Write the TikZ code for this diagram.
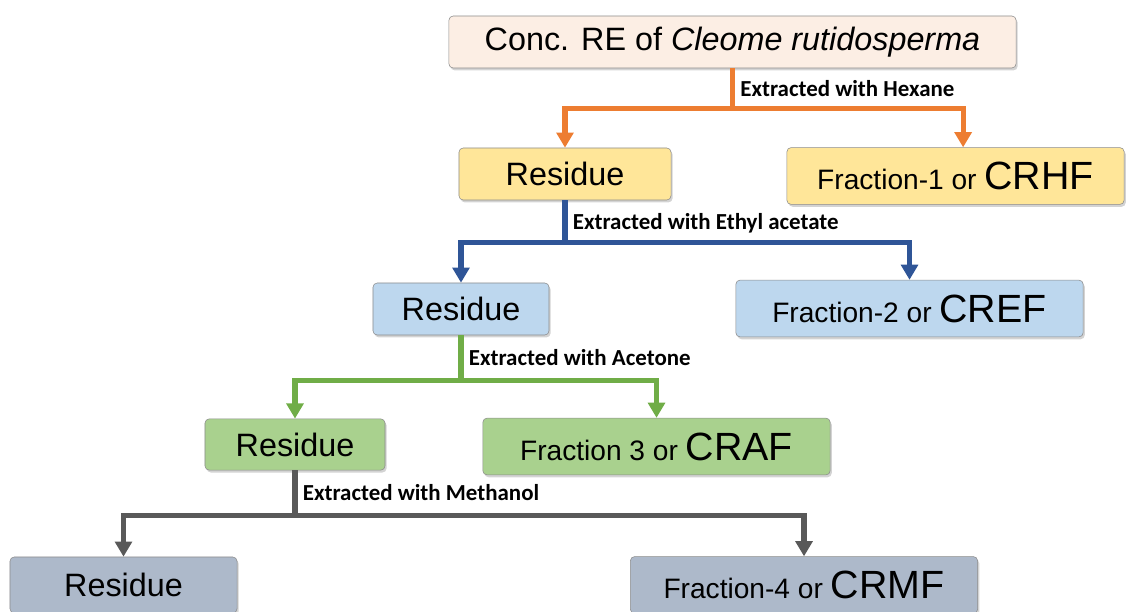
\documentclass[tikz,border=0pt]{standalone}
\usepackage{fontspec}
\setmainfont{Liberation Sans}
\newfontfamily\calibri{Carlito}
\definecolor{crpeach}{RGB}{252,238,228}
\definecolor{cryellow}{RGB}{255,230,153}
\definecolor{crblue}{RGB}{189,215,238}
\definecolor{crgreen}{RGB}{169,209,142}
\definecolor{crslate}{RGB}{173,185,202}
\definecolor{hexorange}{RGB}{237,125,49}
\definecolor{etblue}{RGB}{47,85,151}
\definecolor{acgreen}{RGB}{112,173,71}
\definecolor{megray}{RGB}{89,89,89}
\newcommand{\topfont}{\fontsize{23}{27}\selectfont}
\newcommand{\resfont}{\fontsize{23}{27}\selectfont}
\newcommand{\fracfont}{\fontsize{20}{24}\selectfont}
\newcommand{\codefont}{\fontsize{28}{32}\selectfont}
\newcommand{\solvfont}{\calibri\bfseries\fontsize{16.3}{19}\selectfont}
\usetikzlibrary{arrows.meta,positioning,calc,shadows}

\begin{document}
\begin{tikzpicture}[x=0.025cm,y=-0.025cm,
  stagebox/.style={draw=black!45, thin, rounded corners=3pt, align=center, inner sep=0pt,
    drop shadow={shadow xshift=0.04cm, shadow yshift=-0.06cm, opacity=0.35}},
  resbox/.style={stagebox, font=\resfont, minimum height=1.3cm},
  fracbox/.style={stagebox, font=\fracfont, minimum width=8.68cm, minimum height=1.42cm},
  flowline/.style={line width=0.13cm},
  flowarrow/.style={flowline, -{Triangle[width=0.42cm,length=0.38cm]}},
  solvent/.style={font=\solvfont, anchor=west, inner sep=2pt, xshift=0.12cm}]
  \useasboundingbox (0,0) rectangle (1126,612);

  % Starting extract
  \node[stagebox, fill=crpeach, font=\topfont, minimum width=14.175cm, minimum height=1.3cm] (conc) at (732.5,42) {Conc. RE of \textit{Cleome rutidosperma}};

  % Hexane step
  \node[resbox, fill=cryellow, minimum width=5.3cm] (res1) at (565,174) {Residue};
  \node[fracbox, fill=cryellow, minimum width=8.43cm] (frac1) at (955.5,176) {Fraction-1 or {\codefont CRHF}};
  \coordinate (hex) at ($(conc.south)+(0,40)$);
  \draw[flowline, hexorange] (conc.south) -- (hex);
  \draw[flowarrow, hexorange] (hex) -| (res1.north);
  \draw[flowarrow, hexorange] (hex) -| ([xshift=0.19cm]frac1.north);
  \node[solvent] (lhex) at ($(conc.south)!0.5!(hex)$) {Extracted with Hexane};

  % Ethyl acetate step
  \node[resbox, fill=crblue, minimum width=4.4cm] (res2) at (461,309) {Residue};
  \node[fracbox, fill=crblue] (frac2) at (909.5,308.5) {Fraction-2 or {\codefont CREF}};
  \coordinate (eth) at ($(res1.south)+(0,42)$);
  \draw[flowline, etblue] (res1.south) -- (eth);
  \draw[flowarrow, etblue] (eth) -| (res2.north);
  \draw[flowarrow, etblue] (eth) -| (frac2.north);
  \node[solvent] (leth) at ($(res1.south)!0.55!(eth)$) {Extracted with Ethyl acetate};

  % Acetone step
  \node[resbox, fill=crgreen, minimum width=4.5cm, minimum height=1.28cm] (res3) at (295,444.5) {Residue};
  \node[fracbox, fill=crgreen] (frac3) at (656.5,446.5) {Fraction 3 or {\codefont CRAF}};
  \coordinate (ace) at ($(res2.south)+(0,45)$);
  \draw[flowline, acgreen] (res2.south) -- (ace);
  \draw[flowarrow, acgreen] (ace) -| (res3.north);
  \draw[flowarrow, acgreen] (ace) -| (frac3.north);
  \node[solvent] (lace) at ($(res2.south)!0.5!(ace)$) {Extracted with Acetone};

  % Methanol step
  \node[resbox, fill=crslate, minimum width=5.675cm, minimum height=1.4cm] (res4) at (123.5,585) {Residue};
  \node[fracbox, fill=crslate] (frac4) at (804,585) {Fraction-4 or {\codefont CRMF}};
  \coordinate (met) at ($(res3.south)+(0,45)$);
  \draw[flowline, megray] (res3.south) -- (met);
  \draw[flowarrow, megray] (met) -| (res4.north);
  \draw[flowarrow, megray] (met) -| (frac4.north);
  \node[solvent] (lmet) at ($(res3.south)!0.5!(met)$) {Extracted with Methanol};
\end{tikzpicture}
\end{document}
